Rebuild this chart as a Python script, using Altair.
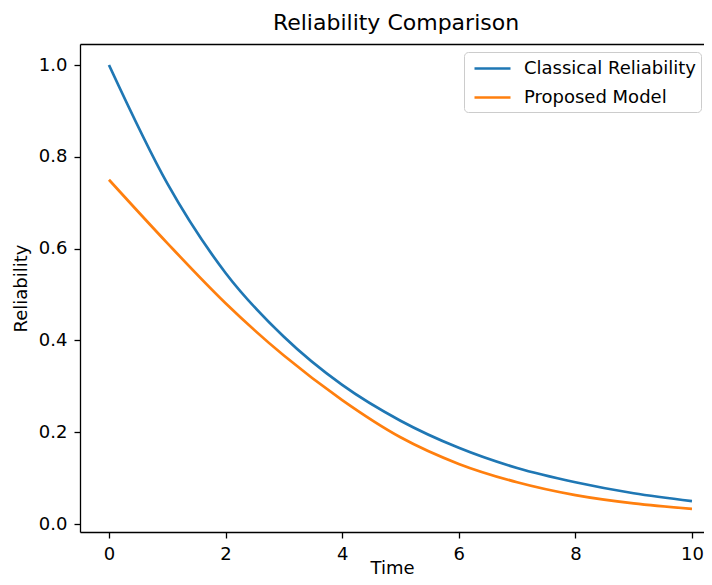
import altair as alt
import pandas as pd

time = [0, 1, 2, 3, 4, 5, 6, 7, 8, 9, 10]
classical = [1.0, 0.742, 0.547, 0.408, 0.303, 0.225, 0.166, 0.122, 0.091, 0.067, 0.050]
proposed = [0.75, 0.612, 0.481, 0.367, 0.270, 0.189, 0.131, 0.091, 0.063, 0.045, 0.033]
series_names = ["Classical Reliability", "Proposed Model"]
colors = ["#1f77b4", "#ff7f0e"]

rows = []
for t, v in zip(time, classical):
    rows.append({"Time": t, "Reliability": v, "Series": series_names[0]})
for t, v in zip(time, proposed):
    rows.append({"Time": t, "Reliability": v, "Series": series_names[1]})
df = pd.DataFrame(rows)

FONT = "DejaVu Sans"
PX_PER_UNIT = 58.3
WIDTH = 624
X0 = -0.497
x_domain = [X0, X0 + WIDTH / PX_PER_UNIT]
y_domain = [-0.0174, 1.0458]

x_scale = alt.Scale(domain=x_domain, nice=False, zero=False)
y_scale = alt.Scale(domain=y_domain, nice=False, zero=False)

lines = (
    alt.Chart(df)
    .mark_line(strokeWidth=2.7, interpolate="monotone", clip=True)
    .encode(
        x=alt.X(
            "Time:Q",
            scale=x_scale,
            axis=alt.Axis(values=[0, 2, 4, 6, 8, 10], format="d", title="Time",
                          titleY=41, titleBaseline="alphabetic"),
        ),
        y=alt.Y(
            "Reliability:Q",
            scale=y_scale,
            axis=alt.Axis(values=[0.0, 0.2, 0.4, 0.6, 0.8, 1.0], format=".1f", title="Reliability"),
        ),
        color=alt.Color(
            "Series:N",
            scale=alt.Scale(domain=series_names, range=colors),
            legend=alt.Legend(
                title=None,
                orient="none",
                legendX=384,
                legendY=8,
                symbolType="M-0.6,0H3.0",
                symbolSize=400,
                symbolStrokeWidth=2.7,
                labelFontSize=18,
                labelFont=FONT,
                labelColor="black",
                labelOffset=32,
                labelLimit=400,
                padding=5,
                rowPadding=8,
                fillColor="white",
                strokeColor="#cccccc",
                cornerRadius=4,
            ),
        ),
    )
)

top_frame = (
    alt.Chart(df)
    .mark_line(strokeOpacity=0)
    .encode(
        x=alt.X(
            "Time:Q",
            scale=x_scale,
            axis=alt.Axis(orient="top", labels=False, ticks=False, title=None, domain=True),
        ),
        y=alt.Y("Reliability:Q", scale=y_scale),
        detail="Series:N",
    )
)

chart = (
    alt.layer(lines, top_frame)
    .resolve_axis(x="independent")
    .properties(
        width=WIDTH,
        height=488,
        title=alt.TitleParams(
            "Reliability Comparison",
            font=FONT,
            fontSize=22,
            fontWeight="normal",
            color="black",
            offset=9,
            dx=4,
        ),
        autosize=alt.AutoSizeParams(type="none"),
        padding={"left": 72, "top": 36, "right": 0, "bottom": 45},
    )
    .configure_view(stroke=None)
    .configure_axis(
        grid=False,
        domain=True,
        domainColor="black",
        domainWidth=1.3,
        ticks=True,
        tickSize=6,
        tickWidth=1.3,
        tickColor="black",
        labelFont=FONT,
        labelFontSize=18,
        labelColor="black",
        labelPadding=7,
        titleFont=FONT,
        titleFontSize=18,
        titleFontWeight="normal",
        titleColor="black",
    )
    .configure_axisY(titlePadding=8)
)

chart.save("out.html", embed_options={"renderer": "svg", "actions": False})
